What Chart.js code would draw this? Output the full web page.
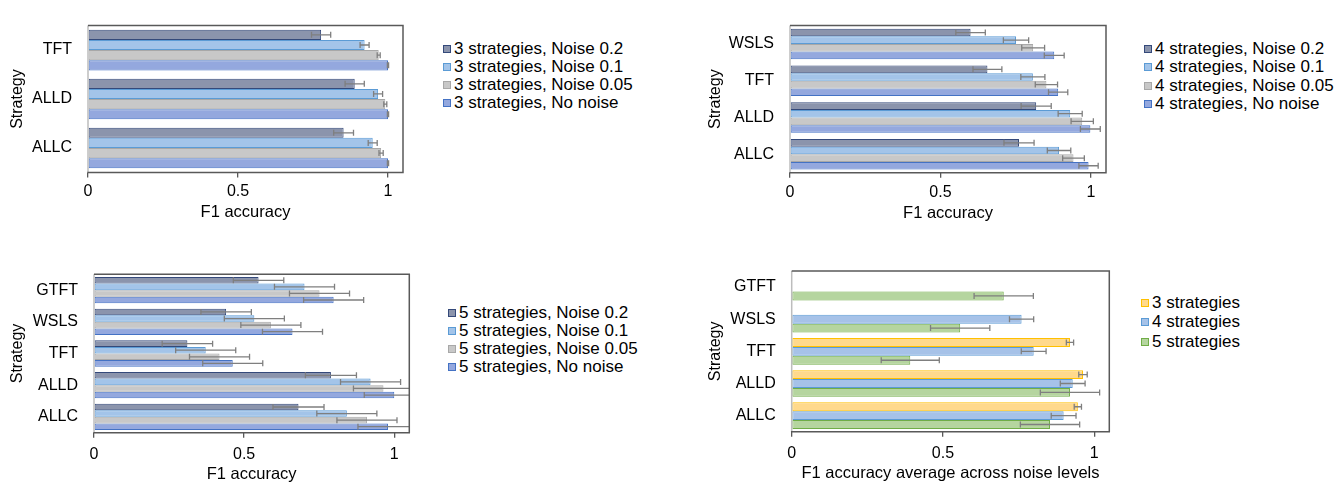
<!DOCTYPE html>
<html><head><meta charset="utf-8">
<script src="https://cdn.jsdelivr.net/npm/chart.js@4.4.0/dist/chart.umd.min.js"></script>
<style>
html,body{margin:0;padding:0;background:#fff;overflow:hidden;width:1338px;height:483px;position:relative;}
canvas{position:absolute;}
.leg{position:absolute;font-family:"Liberation Sans",Arial,sans-serif;font-size:17px;color:#000;}
.leg .row{display:flex;align-items:center;white-space:nowrap;height:18px;}
.leg .sw{display:inline-block;width:6px;height:6px;border:1px solid;margin-right:3px;}
</style></head><body>
<canvas id="c1"></canvas><canvas id="c2"></canvas><canvas id="c3"></canvas><canvas id="c4"></canvas>
<div class="leg" id="l1"></div><div class="leg" id="l2"></div><div class="leg" id="l3"></div><div class="leg" id="l4"></div>
<script>
// ---------- DATA ----------
const xTicks = [0, 0.5, 1];
const xTickLabels = ['0', '0.5', '1'];
const noiseLabels3 = ['3 strategies, Noise 0.2','3 strategies, Noise 0.1','3 strategies, Noise 0.05','3 strategies, No noise'];
const noiseLabels4 = ['4 strategies, Noise 0.2','4 strategies, Noise 0.1','4 strategies, Noise 0.05','4 strategies, No noise'];
const noiseLabels5 = ['5 strategies, Noise 0.2','5 strategies, Noise 0.1','5 strategies, Noise 0.05','5 strategies, No noise'];
const avgLabels = ['3 strategies','4 strategies','5 strategies'];

// Panel 1: 3 strategies (top-to-bottom)
const cats3 = ['TFT','ALLD','ALLC'];
const p1_n02 = [0.777, 0.889, 0.852];  const p1_n02_err = [0.032, 0.032, 0.033];
const p1_n01 = [0.922, 0.967, 0.949];  const p1_n01_err = [0.015, 0.015, 0.015];
const p1_n005 = [0.969, 0.991, 0.977]; const p1_n005_err = [0.005, 0.005, 0.007];
const p1_n0 = [1.0, 1.0, 1.0];         const p1_n0_err = [0.002, 0.002, 0.002];

// Panel 2: 4 strategies
const cats4 = ['WSLS','TFT','ALLD','ALLC'];
const p2_n02 = [0.600, 0.656, 0.818, 0.761];  const p2_n02_err = [0.049, 0.048, 0.050, 0.050];
const p2_n01 = [0.751, 0.807, 0.931, 0.894];  const p2_n01_err = [0.042, 0.040, 0.040, 0.039];
const p2_n005 = [0.808, 0.852, 0.971, 0.942]; const p2_n005_err = [0.038, 0.037, 0.037, 0.036];
const p2_n0 = [0.878, 0.891, 0.998, 0.992];   const p2_n0_err = [0.033, 0.032, 0.033, 0.032];

// Panel 3: 5 strategies
const cats5 = ['GTFT','WSLS','TFT','ALLD','ALLC'];
const p3_n02 = [0.548, 0.440, 0.311, 0.789, 0.681];  const p3_n02_err = [0.084, 0.084, 0.084, 0.085, 0.085];
const p3_n01 = [0.701, 0.534, 0.372, 0.921, 0.842];  const p3_n01_err = [0.100, 0.100, 0.100, 0.100, 0.100];
const p3_n005 = [0.751, 0.589, 0.418, 0.964, 0.909]; const p3_n005_err = [0.100, 0.100, 0.100, 0.100, 0.100];
const p3_n0 = [0.798, 0.661, 0.462, 1.000, 0.979];   const p3_n0_err = [0.100, 0.100, 0.100, 0.100, 0.100];

// Panel 4: average across noise levels
const p4_s3 = [null, null, 0.920, 0.963, 0.946];   const p4_s3_err = [null, null, 0.012, 0.014, 0.012];
const p4_s4 = [null, 0.760, 0.800, 0.929, 0.899];  const p4_s4_err = [null, 0.040, 0.041, 0.041, 0.041];
const p4_s5 = [0.701, 0.557, 0.392, 0.920, 0.854]; const p4_s5_err = [0.098, 0.098, 0.096, 0.098, 0.098];

// ---------- STYLE ----------
const sty = {
  n02: {bg:'#8b94ac', bd:'#34497a'},
  n01: {bg:'#a3c4e9', bd:'#5b9bd5'},
  n005:{bg:'#c8c8c8', bd:'#a8a8a8'},
  n0:  {bg:'#94a8de', bd:'#4472c4'},
  s3:  {bg:'#ffd98c', bd:'#ffc000'},
  s4:  {bg:'#a6c2e8', bd:'#5b9bd5'},
  s5:  {bg:'#b5d59f', bd:'#70ad47'}
};

Chart.defaults.font.family = '"Liberation Sans", Arial, sans-serif';
Chart.defaults.font.size = 16;
Chart.defaults.color = '#000';

const errorBars = {
  id: 'errorBars',
  afterDatasetsDraw(chart) {
    const {ctx, chartArea: a} = chart;
    const xs = chart.scales.x;
    ctx.save();
    ctx.beginPath(); ctx.rect(a.left, a.top, a.right - a.left, a.bottom - a.top); ctx.clip();
    ctx.strokeStyle = '#7f7f7f'; ctx.lineWidth = 1.3;
    chart.data.datasets.forEach((ds, di) => {
      const meta = chart.getDatasetMeta(di);
      meta.data.forEach((bar, i) => {
        const v = ds.data[i], e = ds.errors[i];
        if (v == null || e == null) return;
        const y = bar.y, x1 = xs.getPixelForValue(v - e), x2 = xs.getPixelForValue(v + e), h = 3;
        ctx.beginPath();
        ctx.moveTo(x1, y); ctx.lineTo(x2, y);
        ctx.moveTo(x1, y - h); ctx.lineTo(x1, y + h);
        ctx.moveTo(x2, y - h); ctx.lineTo(x2, y + h);
        ctx.stroke();
      });
    });
    ctx.restore();
  }
};
const frame = {
  id: 'frame',
  afterDraw(chart) {
    const {ctx, chartArea: a} = chart;
    ctx.save();
    ctx.lineWidth = 1.5;
    ctx.strokeStyle = '#bdbdbd';
    ctx.beginPath(); ctx.moveTo(a.left, a.top); ctx.lineTo(a.left, a.bottom); ctx.stroke();
    ctx.strokeStyle = '#595959';
    ctx.beginPath(); ctx.moveTo(a.left, a.top); ctx.lineTo(a.right, a.top); ctx.lineTo(a.right, a.bottom); ctx.lineTo(a.left - 0.75, a.bottom); ctx.stroke();
    ctx.restore();
  }
};

function ds(label, data, errors, s) {
  return {label, data, errors, backgroundColor: s.bg, borderColor: s.bd, borderWidth: 1,
          borderSkipped: false, barPercentage: 1, categoryPercentage: 0.83};
}

function makeChart(id, labels, datasets, g, xTitle) {
  const cv = document.getElementById(id);
  const padR = 5, padB = 2;
  const scaleBottom = g.titleMidY + 9.6;
  const W = Math.ceil(g.R - g.cx + padR);
  const H = Math.ceil(scaleBottom - g.cy + padB);
  cv.width = W; cv.height = H;
  cv.style.left = g.cx + 'px'; cv.style.top = g.cy + 'px';
  cv.style.width = W + 'px'; cv.style.height = H + 'px';
  const padL = g.titleCX - g.cx - 9.6;
  const yW = g.L - g.cx - padL;
  const xH = scaleBottom - g.B;
  return new Chart(cv, {
    type: 'bar',
    data: {labels, datasets},
    options: {
      indexAxis: 'y', responsive: false, animation: false, devicePixelRatio: 1,
      layout: {padding: {left: padL, top: g.T - g.cy, right: W - (g.R - g.cx), bottom: H - (scaleBottom - g.cy)}},
      plugins: {legend: {display: false}, tooltip: {enabled: false}},
      scales: {
        x: {
          type: 'linear', min: 0, max: 1.05,
          afterBuildTicks: s => { s.ticks = xTicks.map(v => ({value: v})); },
          afterFit: s => { s.height = xH; },
          grid: {display: true, drawOnChartArea: false, drawTicks: true, tickLength: 5, color: '#595959', lineWidth: 1.3},
          border: {display: false},
          ticks: {padding: g.tickPad, maxRotation: 0, font: {size: 16},
                  callback: (v) => xTickLabels[xTicks.indexOf(v)]},
          title: {display: true, text: xTitle, padding: 0, font: {size: 16.5}}
        },
        y: {
          afterFit: s => { s.width = yW; },
          grid: {display: false, drawTicks: false, tickLength: 0},
          border: {display: false},
          ticks: {padding: 16, font: {size: 16}},
          title: {display: true, text: 'Strategy', padding: 0, font: {size: 16}}
        }
      }
    },
    plugins: [errorBars, frame]
  });
}

function makeLegend(id, labels, styles, x, y, rowH) {
  const el = document.getElementById(id);
  el.style.left = x + 'px'; el.style.top = y + 'px';
  labels.forEach((t, i) => {
    const r = document.createElement('div'); r.className = 'row';
    r.style.height = rowH + 'px';
    const sw = document.createElement('span'); sw.className = 'sw';
    sw.style.background = styles[i].bg; sw.style.borderColor = styles[i].bd;
    r.appendChild(sw); r.appendChild(document.createTextNode(t));
    el.appendChild(r);
  });
}

const noiseStyles = [sty.n02, sty.n01, sty.n005, sty.n0];

makeChart('c1', cats3, [
  ds(noiseLabels3[0], p1_n02, p1_n02_err, sty.n02),
  ds(noiseLabels3[1], p1_n01, p1_n01_err, sty.n01),
  ds(noiseLabels3[2], p1_n005, p1_n005_err, sty.n005),
  ds(noiseLabels3[3], p1_n0, p1_n0_err, sty.n0)
], {cx: 0, cy: 0, L: 88, R: 403, T: 12.5, B: 172.5, titleCX: 17.5, titleMidY: 213, tickPad: 4}, 'F1 accuracy');

makeChart('c2', cats4, [
  ds(noiseLabels4[0], p2_n02, p2_n02_err, sty.n02),
  ds(noiseLabels4[1], p2_n01, p2_n01_err, sty.n01),
  ds(noiseLabels4[2], p2_n005, p2_n005_err, sty.n005),
  ds(noiseLabels4[3], p2_n0, p2_n0_err, sty.n0)
], {cx: 695, cy: 0, L: 790, R: 1106, T: 12.7, B: 172.7, titleCX: 716, titleMidY: 214, tickPad: 5}, 'F1 accuracy');

makeChart('c3', cats5, [
  ds(noiseLabels5[0], p3_n02, p3_n02_err, sty.n02),
  ds(noiseLabels5[1], p3_n01, p3_n01_err, sty.n01),
  ds(noiseLabels5[2], p3_n005, p3_n005_err, sty.n005),
  ds(noiseLabels5[3], p3_n0, p3_n0_err, sty.n0)
], {cx: 0, cy: 245, L: 94, R: 409.3, T: 274.3, B: 432.7, titleCX: 17.5, titleMidY: 475, tickPad: 7}, 'F1 accuracy');

makeChart('c4', cats5, [
  ds(avgLabels[0], p4_s3, p4_s3_err, sty.s3),
  ds(avgLabels[1], p4_s4, p4_s4_err, sty.s4),
  ds(avgLabels[2], p4_s5, p4_s5_err, sty.s5)
], {cx: 695, cy: 245, L: 791.7, R: 1109.3, T: 271, B: 431.7, titleCX: 716, titleMidY: 474, tickPad: 7}, 'F1 accuracy average across noise levels');

makeLegend('l1', noiseLabels3, noiseStyles, 443, 39.5, 18);
makeLegend('l2', noiseLabels4, noiseStyles, 1144, 40, 18.3);
makeLegend('l3', noiseLabels5, noiseStyles, 448, 303.5, 18);
makeLegend('l4', avgLabels, [sty.s3, sty.s4, sty.s5], 1141, 293, 19.5);
</script>
</body></html>
